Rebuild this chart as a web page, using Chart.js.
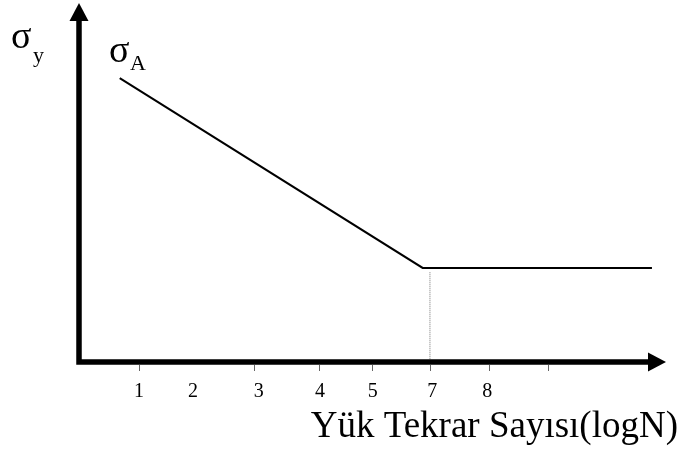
<!DOCTYPE html>
<html>
<head>
<meta charset="utf-8">
<script src="https://cdn.jsdelivr.net/npm/chart.js@4/dist/chart.umd.min.js"></script>
<style>
    html, body { margin: 0; padding: 0; background: #fff; }
    #wrap { width: 683px; height: 450px; }
</style>
</head>
<body>
<div id="wrap"><canvas id="sn-chart"></canvas></div>
<script>
// S-N curve: sloped part from σA down to the fatigue limit, then flat
const curveX = [0.6, 6.85, 11.58];
const curveY = [79.1, 26.2, 26.2];

// dotted drop line at the knee (logN = 7)
const kneeX = [7, 7];
const kneeY = [25, 0];

// tick marks under the x axis and the numbers printed below it
const tickAt = [1, 3.37, 4.71, 5.8, 7, 8.22, 9.43];
const labelAt = [1, 2.11, 3.47, 4.73, 5.82, 7.05, 8.18];
const tickLabels = ['1', '2', '3', '4', '5', '7', '8'];

const xTitle = 'Yük Tekrar Sayısı(logN)';
const serif = '"Liberation Serif", "Times New Roman", serif';

const toPoints = (xs, ys) => xs.map((x, i) => ({ x, y: ys[i] }));

// thick arrowed axes, small ticks and all the text
const axesPlugin = {
    id: 'arrowAxes',
    afterDraw(chart) {
        const { ctx, chartArea: a, scales } = chart;
        const xs = scales.x;
        ctx.save();
        ctx.fillStyle = '#000';
        ctx.strokeStyle = '#000';

        // axis shafts
        ctx.lineWidth = 5.5;
        ctx.beginPath();
        ctx.moveTo(a.left, 20);
        ctx.lineTo(a.left, a.bottom + 2.75);
        ctx.moveTo(a.left - 2.75, a.bottom);
        ctx.lineTo(a.right - 18, a.bottom);
        ctx.stroke();

        // arrow heads
        ctx.beginPath();
        ctx.moveTo(a.left, a.top);
        ctx.lineTo(a.left - 9.5, a.top + 18);
        ctx.lineTo(a.left + 9.5, a.top + 18);
        ctx.closePath();
        ctx.fill();
        ctx.beginPath();
        ctx.moveTo(a.right, a.bottom);
        ctx.lineTo(a.right - 18, a.bottom - 9.5);
        ctx.lineTo(a.right - 18, a.bottom + 9.5);
        ctx.closePath();
        ctx.fill();

        // tick marks
        ctx.strokeStyle = '#666';
        ctx.lineWidth = 1;
        ctx.beginPath();
        tickAt.forEach(v => {
            const px = Math.round(xs.getPixelForValue(v)) + 0.5;
            ctx.moveTo(px, a.bottom + 3);
            ctx.lineTo(px, a.bottom + 9);
        });
        ctx.stroke();

        // tick numbers
        ctx.fillStyle = '#000';
        ctx.textAlign = 'center';
        ctx.textBaseline = 'alphabetic';
        ctx.font = '20px ' + serif;
        labelAt.forEach((v, i) => {
            ctx.fillText(tickLabels[i], xs.getPixelForValue(v), a.bottom + 35);
        });

        // axis title
        ctx.textAlign = 'right';
        ctx.font = '37px ' + serif;
        ctx.fillText(xTitle, 678, 437);

        // σy beside the vertical axis, σA at the start of the curve
        ctx.textAlign = 'left';
        ctx.font = '38px ' + serif;
        ctx.fillText('σ', 11, 48);
        ctx.fillText('σ', 109, 62);
        ctx.font = '22px ' + serif;
        ctx.fillText('y', 33, 62);
        ctx.font = '22px ' + serif;
        ctx.fillText('A', 130, 70);

        ctx.restore();
    },
};

new Chart(document.getElementById('sn-chart'), {
    type: 'line',
    data: {
        datasets: [
            {
                data: toPoints(curveX, curveY),
                borderColor: '#000',
                borderWidth: 2,
                pointRadius: 0,
                tension: 0,
            },
            {
                data: toPoints(kneeX, kneeY),
                borderColor: '#777',
                borderWidth: 1,
                borderDash: [1, 1],
                pointRadius: 0,
            },
        ],
    },
    options: {
        responsive: true,
        maintainAspectRatio: false,
        animation: false,
        layout: { padding: { left: 79, top: 3, right: 17, bottom: 88 } },
        plugins: {
            legend: { display: false },
            tooltip: { enabled: false },
        },
        scales: {
            x: { type: 'linear', min: -0.24, max: 11.87, display: false },
            y: { type: 'linear', min: 0, max: 100, display: false },
        },
    },
    plugins: [axesPlugin],
});
</script>
</body>
</html>
